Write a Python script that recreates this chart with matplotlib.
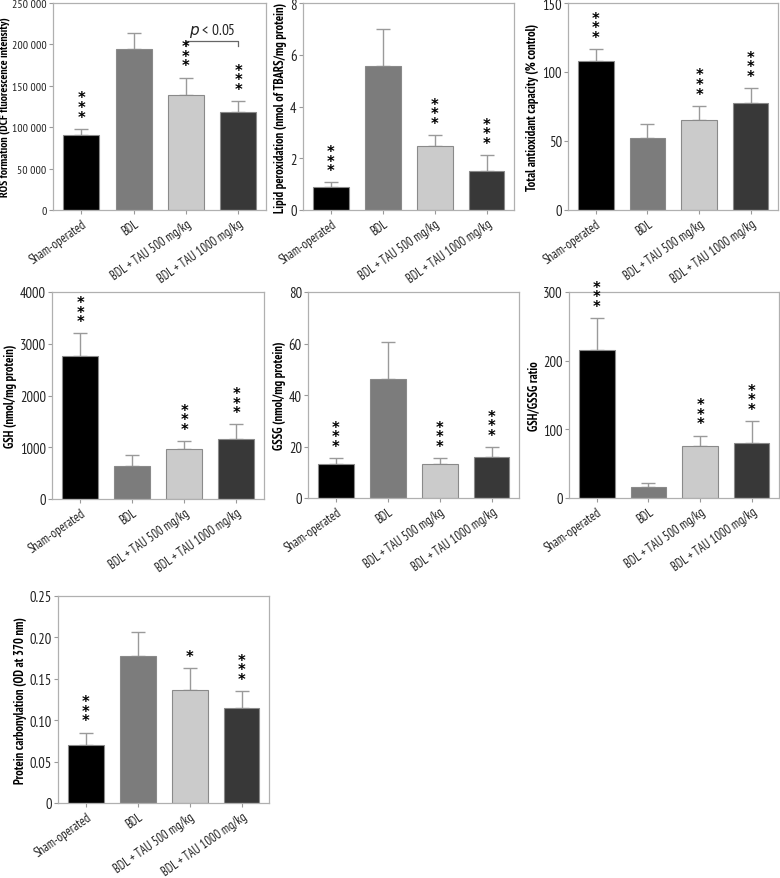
import matplotlib
matplotlib.use("Agg")
import matplotlib.pyplot as plt
from matplotlib.ticker import FuncFormatter

plt.rcParams['font.family'] = ['PT Sans Narrow', 'Roboto Condensed', 'Liberation Sans', 'DejaVu Sans']

groups = ["Sham-operated", "BDL", "BDL + TAU 500 mg/kg", "BDL + TAU 1000 mg/kg"]
bar_colors = ["#000000", "#7c7c7c", "#cbcbcb", "#383838"]

# values (mean, upper SD)
ros_mean = [90000, 194000, 139000, 118500]
ros_err = [8000, 20000, 21000, 13000]
lpo_mean = [0.90, 5.58, 2.46, 1.51]
lpo_err = [0.17, 1.43, 0.43, 0.61]
tac_mean = [108, 52, 65, 77.5]
tac_err = [8.5, 10, 10.5, 11]
gsh_mean = [2770, 640, 965, 1160]
gsh_err = [430, 210, 155, 280]
gssg_mean = [13.1, 46.3, 13.2, 15.9]
gssg_err = [2.4, 14.3, 2.3, 3.9]
ratio_mean = [216, 16.5, 76, 80]
ratio_err = [46, 6, 15, 32]
pc_mean = [0.070, 0.177, 0.137, 0.115]
pc_err = [0.015, 0.030, 0.026, 0.020]

stars_std = ["***", "", "***", "***"]
stars_pc = ["***", "", "*", "***"]

W, H = 780, 879
fig = plt.figure(figsize=(W / 100, H / 100), dpi=100)


def space_thousands(v, pos):
    return f"{int(v):,}".replace(",", " ")


def plain(v, pos):
    return "0" if v == 0 else f"{v:g}"


def two_dec(v, pos):
    return "0" if v == 0 else f"{v:.2f}"


# (left, right, top, bottom) in pixels
panels = [
    ((53, 266, 4, 211), ros_mean, ros_err, stars_std,
     "ROS formation (DCF fluorescence intensity)", 250000, 50000, space_thousands),
    ((303, 514, 4, 211), lpo_mean, lpo_err, stars_std,
     "Lipid peroxidation (nmol of TBARS/mg protein)", 8, 2, plain),
    ((568, 778, 4, 211), tac_mean, tac_err, stars_std,
     "Total antioxidant capacity (% control)", 150, 50, plain),
    ((52, 264, 293, 500), gsh_mean, gsh_err, stars_std,
     "GSH (nmol/mg protein)", 4000, 1000, plain),
    ((308, 519, 293, 499), gssg_mean, gssg_err, stars_std,
     "GSSG (nmol/mg protein)", 80, 20, plain),
    ((569, 779, 293, 499), ratio_mean, ratio_err, stars_std,
     "GSH/GSSG ratio", 300, 100, plain),
    ((58, 269, 597, 804), pc_mean, pc_err, stars_pc,
     "Protein carbonylation (OD at 370 nm)", 0.25, 0.05, two_dec),
]

axes = []
for (l, r, t, b), mean, err, stars, ylabel, ymax, step, fmt in panels:
    ax = fig.add_axes([l / W, 1 - b / H, (r - l) / W, (b - t) / H])
    x = range(len(groups))
    ax.bar(x, mean, width=0.69, color=bar_colors, edgecolor="#8a8a8a", linewidth=0.8, zorder=2)
    ax.errorbar(x, mean, yerr=[[0] * len(err), err], fmt="none", ecolor="#9a9a9a",
                elinewidth=1, capsize=5, capthick=1, zorder=1)
    for xi, m, e, s in zip(x, mean, err, stars):
        if s:
            ax.annotate("\n".join(s), xy=(xi, m + e), xytext=(0, 3), textcoords="offset points",
                        ha="center", va="bottom", fontsize=10.5, fontweight="bold",
                        linespacing=0.55, annotation_clip=False, family="DejaVu Sans")
    ax.set_xlim(-0.54, 3.53)
    ax.set_ylim(0, ymax)
    n = int(round(ymax / step))
    ax.set_yticks([i * step for i in range(n + 1)])
    ax.yaxis.set_major_formatter(FuncFormatter(fmt))
    ax.set_xticks(list(x))
    ax.set_xticklabels(groups, rotation=35, ha="right", rotation_mode="anchor", fontsize=9)
    ax.tick_params(axis="both", colors="#9a9a9a", length=3, width=0.8, labelcolor="#222222")
    ax.tick_params(axis="y", labelsize=10.5, pad=1.5)
    ax.tick_params(axis="x", pad=2)
    for sp in ax.spines.values():
        sp.set_color("#b0b0b0")
        sp.set_linewidth(0.9)
    ax.set_ylabel(ylabel, fontsize=9, fontweight="bold", labelpad=2)
    axes.append(ax)

# the ROS panel is pressed against the figure edge: narrower tick labels,
# label placed by hand just inside the edge
ax = axes[0]
ax.tick_params(axis="y", labelsize=8.5, pad=1.5)
ax.set_ylabel(ax.get_ylabel(), fontsize=8.5, fontweight="bold", va="center")
ax.yaxis.set_label_coords((5 - 53) / (266 - 53), 0.5)

# significance bracket between the two TAU doses in the ROS panel
ax.plot([2, 2, 3, 3], [198000, 204000, 204000, 198000], color="#666666", linewidth=0.9,
        clip_on=False)
ax.text(2.5, 207000, "$p$ < 0.05", ha="center", va="bottom", fontsize=11, color="#222222")

fig.savefig("out.png", dpi=100)
